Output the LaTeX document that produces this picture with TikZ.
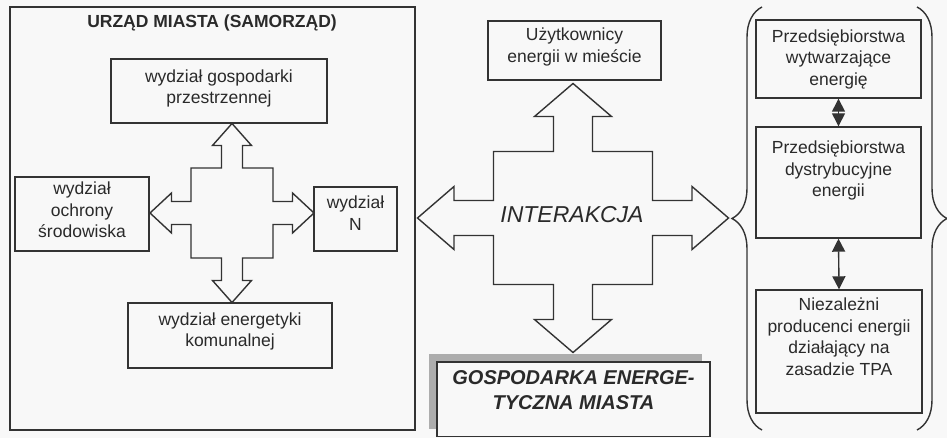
\documentclass[tikz,border=0pt]{standalone}
\usepackage{fontspec}
\setmainfont{Liberation Sans}
\usetikzlibrary{arrows.meta,decorations.pathreplacing}

\definecolor{linia}{HTML}{333333}
\definecolor{tekst}{HTML}{2A2A2A}
\definecolor{tlo}{HTML}{F8F8F8}

\tikzset{
  pole/.style={draw=linia,fill=tlo,align=center,inner sep=2pt,text=tekst,font=\fontsize{17.5}{21.5}\selectfont},
  podnies/.style={text depth=#1},
  blok/.style={draw=linia,fill=tlo,line join=miter},
  klamra/.style={draw=linia,decorate,decoration={brace,amplitude=30pt}},
}

\begin{document}
\begin{tikzpicture}[x=1pt,y=1pt,line width=1.4pt,>={Triangle[length=13pt,width=13pt]}]
  \fill[tlo] (0,0) rectangle (947,-438);
  \useasboundingbox (0,0) rectangle (947,-438);
  % urzad miasta
  \node[pole,minimum width=405,minimum height=423] (urzad) at (212.5,-218.5) {};
  \node[text=tekst,font=\bfseries\fontsize{17.5}{21}\selectfont] (tytul) at (212,-23) {URZĄD MIASTA (SAMORZĄD)};
  \node[pole,minimum width=216,minimum height=64,podnies=9pt] (gosp) at (219,-91) {wydział gospodarki\\przestrzennej};
  \node[pole,minimum width=134,minimum height=74,podnies=8pt] (ochrona) at (82,-214) {wydział\\ochrony\\środowiska};
  \node[pole,minimum width=83,minimum height=64,podnies=12pt] (wydzN) at (355.5,-219) {wydział\\N};
  \node[pole,minimum width=204,minimum height=65,podnies=12pt] (energ) at (230,-335.5) {wydział energetyki\\komunalnej};
  \coordinate (srodek) at (232,-213);
  \draw[blok,shift={(srodek)}] (0,89.5) -- (19.5,67.5) -- (10.5,67.5) -- (10.5,45) -- (41,45) -- (41,11.5)
     -- (60.5,11.5) -- (60.5,20) -- (82,0) -- (60.5,-20) -- (60.5,-11.5) -- (41,-11.5) -- (41,-45)
     -- (10.5,-45) -- (10.5,-67.5) -- (19.5,-67.5) -- (0,-89.5) -- (-19.5,-67.5) -- (-10.5,-67.5)
     -- (-10.5,-45) -- (-41,-45) -- (-41,-11.5) -- (-60.5,-11.5) -- (-60.5,-20) -- (-82,0)
     -- (-60.5,20) -- (-60.5,11.5) -- (-41,11.5) -- (-41,45) -- (-10.5,45) -- (-10.5,67.5) -- (-19.5,67.5) -- cycle;
  % interakcja
  \node[pole,minimum width=173,minimum height=59,podnies=11pt] (uzytk) at (574.5,-50.5) {Użytkownicy\\energii w mieście};
  \coordinate (interakcja) at (573,-218);
  \draw[blok,shift={(interakcja)}] (0,134.5) -- (38.5,101.5) -- (19.5,101.5) -- (19.5,66.5) -- (79.5,66.5)
     -- (79.5,17.5) -- (119,17.5) -- (119,31.5) -- (155.5,0) -- (119,-31.5) -- (119,-17.5) -- (79.5,-17.5)
     -- (79.5,-66.5) -- (19.5,-66.5) -- (19.5,-101.5) -- (38.5,-101.5) -- (0,-134.5) -- (-38.5,-101.5)
     -- (-19.5,-101.5) -- (-19.5,-66.5) -- (-79.5,-66.5) -- (-79.5,-17.5) -- (-119,-17.5) -- (-119,-31.5)
     -- (-155.5,0) -- (-119,31.5) -- (-119,17.5) -- (-79.5,17.5) -- (-79.5,66.5) -- (-19.5,66.5)
     -- (-19.5,101.5) -- (-38.5,101.5) -- cycle;
  \node[text=tekst,font=\itshape\fontsize{23}{27}\selectfont] (napis) at (572,-215) {INTERAKCJA};
  % gospodarka energetyczna z cieniem
  \fill[black!32] (429,-354) rectangle (702,-429);
  \node[pole,font=\bfseries\itshape\fontsize{20}{25}\selectfont,minimum width=273,minimum height=74.5,podnies=18pt] (gospen) at (573.5,-399.25) {GOSPODARKA ENERGE-\\TYCZNA MIASTA};
  % przedsiebiorstwa
  \node[pole,minimum width=165,minimum height=78] (prz1) at (838.5,-59) {Przedsiębiorstwa\\wytwarzające\\energię};
  \node[pole,minimum width=165,minimum height=111,podnies=27pt] (prz2) at (838.5,-182.5) {Przedsiębiorstwa\\dystrybucyjne\\energii};
  \node[pole,minimum width=166,minimum height=123,podnies=30pt] (prz3) at (839,-351.5) {Niezależni\\producenci energii\\działający na\\zasadzie TPA};
  \draw[<->,linia] (prz1.south) -- (prz2.north);
  \draw[<->,linia] (prz2.south) -- (prz3.north);
  \draw[klamra] (762,-430) -- (762,-7);
  \draw[klamra] (917,-7) -- (917,-430);
\end{tikzpicture}
\end{document}
